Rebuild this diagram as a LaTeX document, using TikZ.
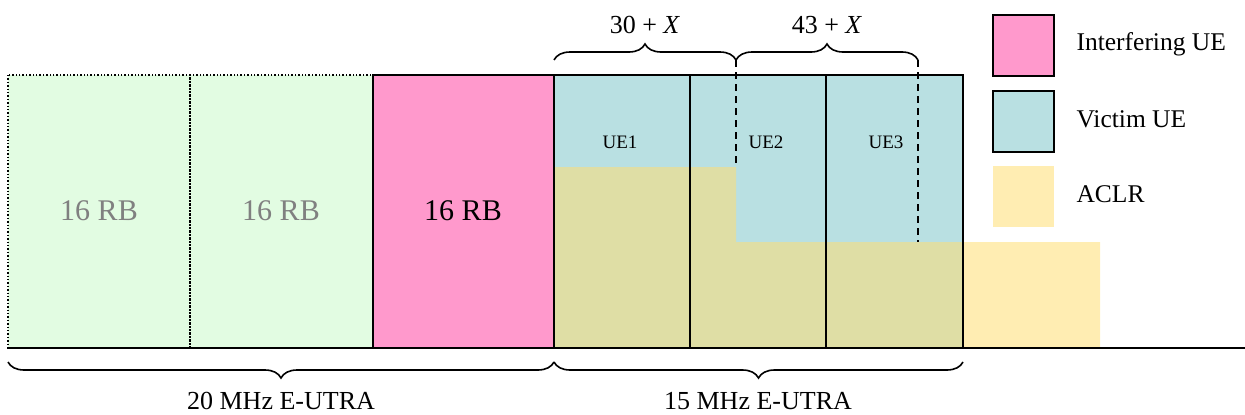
\documentclass[tikz,border=0pt]{standalone}
\usepackage{fontspec}
\setmainfont{Liberation Serif}
\usetikzlibrary{decorations.pathreplacing}
\definecolor{pinkue}{RGB}{255,153,204}
\definecolor{victim}{RGB}{185,224,226}
\definecolor{greenrb}{RGB}{226,252,226}
\definecolor{aclr}{RGB}{255,222,115}
\definecolor{graytxt}{RGB}{128,128,128}
\tikzset{
  border/.style={draw=black, line width=1.8pt},
  dotborder/.style={draw=black, line width=1.4pt, dotted},
  aclrfill/.style={fill=aclr, fill opacity=0.55, draw=none},
  ubrace/.style={decorate, decoration={brace, amplitude=16pt}, line width=1.6pt},
  dbrace/.style={decorate, decoration={brace, amplitude=16pt, mirror}, line width=1.6pt},
  dashln/.style={line width=1.8pt, dash pattern=on 7pt off 5pt},
  rbtxt/.style={font=\fontsize{30}{30}\selectfont},
  uetxt/.style={font=\fontsize{19}{19}\selectfont},
  lbl/.style={font=\fontsize{26}{26}\selectfont},
  leg/.style={font=\fontsize{25.5}{26}\selectfont, anchor=base west},
}
\begin{document}
\begin{tikzpicture}[x=1pt,y=-1pt]
\useasboundingbox (0,0) rectangle (1245,415);
% green RBs
\fill[greenrb] (8,75) rectangle (373,348);
\draw[dotborder] (8,75) rectangle (190,348);
\draw[dotborder] (190,75) rectangle (373,348);
% pink
\fill[pinkue] (373,75) rectangle (554,348);
% victim
\fill[victim] (554,75) rectangle (963,348);
% ACLR
\fill[aclrfill] (554,167) -| (736,242) -| (1100,348) -| cycle;
% borders
\draw[border] (373,348) |- (554,75);
\draw[border] (554,348) -- (554,75) -- (963,75) -- (963,348);
\draw[border] (690,75) -- (690,348);
\draw[border] (826,75) -- (826,348);
\draw[line width=2.4pt] (8,348) -- (1245,348);
% dashed lines
\draw[dashln] (736,60) -- (736,167);
\draw[dashln] (918,60) -- (918,242);
% braces top
\coordinate (b0) at (554,60);
\coordinate (b1) at (736,60);
\coordinate (b2) at (918,60);
\draw[ubrace] (b0) -- (b1);
\draw[ubrace] (b1) -- (b2);
\node[lbl] (l30) at (645,25) {30 + \textit{X}};
\node[lbl] (l43) at (827,25) {43 + \textit{X}};
% braces bottom
\coordinate (c0) at (8,362);
\coordinate (c1) at (554,362);
\coordinate (c2) at (963,362);
\draw[dbrace] (c0) -- (c1);
\draw[dbrace] (c1) -- (c2);
\node[lbl, anchor=base] (l20) at (281,409) {20 MHz E-UTRA};
\node[lbl, anchor=base] (l15) at (758,409) {15 MHz E-UTRA};
% RB labels
\node[rbtxt, text=graytxt] (rb1) at (99,211) {16 RB};
\node[rbtxt, text=graytxt] (rb2) at (281,211) {16 RB};
\node[rbtxt] (rb3) at (463,211) {16 RB};
\node[uetxt] (ue1) at (620,142) {UE1};
\node[uetxt] (ue2) at (766,142) {UE2};
\node[uetxt] (ue3) at (886,142) {UE3};
% legend
\draw[border, fill=pinkue] (993,15) rectangle (1054,76);
\draw[border, fill=victim] (993,91) rectangle (1054,152);
\fill[aclrfill] (993,166) rectangle (1054,227);
\node[leg] (li) at (1073,50) {Interfering UE};
\node[leg] (lv) at (1073,127) {Victim UE};
\node[leg] (la) at (1073,202) {ACLR};
\end{tikzpicture}
\end{document}
